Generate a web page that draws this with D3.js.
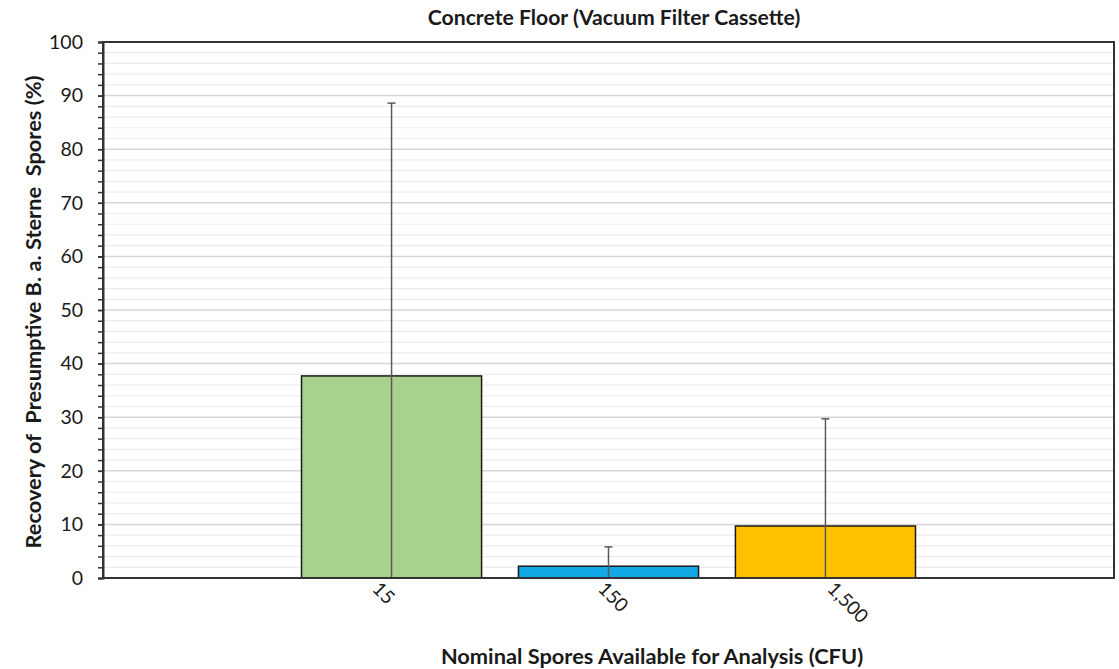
<!DOCTYPE html>
<html>
<head>
<meta charset="utf-8">
<script src="https://cdn.jsdelivr.net/npm/d3@7"></script>
<style>
  html, body { margin: 0; padding: 0; background: #fff; }
  svg { display: block; }
  text { font-family: Lato, "Open Sans", sans-serif; fill: #1a1a1a; }
</style>
</head>
<body>
<svg id="chart" width="1119" height="669"></svg>
<script>
// Nominal spore challenge levels (CFU)
const categories = ["15", "150", "1,500"];
// Mean recovery (%) and standard deviation for each level
const meanRecovery = [37.7, 2.2, 9.7];
const sdRecovery = [50.9, 3.6, 20.0];
const barColors = ["#a9d18e", "#12a9e6", "#ffc000"];
const yTicks = [0, 10, 20, 30, 40, 50, 60, 70, 80, 90, 100];
const yMinorTicks = d3.range(0, 101, 2);

const titleText = "Concrete Floor (Vacuum Filter Cassette)";
const yLabelText = "Recovery of\u00a0 Presumptive B. a. Sterne\u00a0 Spores (%)";
const xLabelText = "Nominal Spores Available for Analysis (CFU)";

const margin = { top: 42, right: 5, bottom: 91, left: 103 };
const W = 1119, H = 669;
const innerW = W - margin.left - margin.right;
const innerH = H - margin.top - margin.bottom;
const FONT = "Lato, 'Open Sans', sans-serif";

const svg = d3.select("#chart");
const g = svg.append("g").attr("transform", `translate(${margin.left},${margin.top})`);

const x = d3.scaleBand()
  .domain(categories)
  .range([0, innerW])
  .paddingInner(0.17)
  .paddingOuter(0.915);

const y = d3.scaleLinear().domain([0, 100]).range([innerH, 0]);

// Minor gridlines every 2 %
g.append("g").selectAll("line")
  .data(yMinorTicks.filter(v => v % 10 !== 0))
  .join("line")
  .attr("x1", 0).attr("x2", innerW)
  .attr("y1", d => y(d)).attr("y2", d => y(d))
  .attr("stroke", "#ececec").attr("stroke-width", 1.2);

// Major gridlines every 10 %
g.append("g").selectAll("line")
  .data(yTicks.filter(v => v > 0 && v < 100))
  .join("line")
  .attr("x1", 0).attr("x2", innerW)
  .attr("y1", d => y(d)).attr("y2", d => y(d))
  .attr("stroke", "#d6d6d6").attr("stroke-width", 1.5);

// Bars
g.append("g").selectAll("rect")
  .data(categories.map((c, i) => ({ c, v: meanRecovery[i], color: barColors[i] })))
  .join("rect")
  .attr("x", d => x(d.c))
  .attr("width", x.bandwidth())
  .attr("y", d => y(d.v))
  .attr("height", d => y(0) - y(d.v))
  .attr("fill", d => d.color)
  .attr("stroke", "#1a1a1a")
  .attr("stroke-width", 1.5);

// Error bars (lower arm clipped at zero, cap on the upper arm)
const err = g.append("g").attr("stroke", "#5a5a5a").attr("stroke-width", 1.5);
categories.forEach((c, i) => {
  const cx = x(c) + x.bandwidth() / 2;
  const hi = meanRecovery[i] + sdRecovery[i];
  const lo = Math.max(0, meanRecovery[i] - sdRecovery[i]);
  err.append("line").attr("x1", cx).attr("x2", cx).attr("y1", y(lo)).attr("y2", y(hi));
  err.append("line").attr("x1", cx - 4).attr("x2", cx + 4).attr("y1", y(hi)).attr("y2", y(hi));
});

// Plot frame
g.append("rect")
  .attr("x", 0).attr("y", 0).attr("width", innerW).attr("height", innerH)
  .attr("fill", "none").attr("stroke", "#333").attr("stroke-width", 2);

// Y axis: minor ticks then labelled major ticks
const yMinorAxis = d3.axisLeft(y).tickValues(yMinorTicks).tickSize(5).tickFormat("");
g.append("g").call(yMinorAxis)
  .call(a => a.select(".domain").remove())
  .call(a => a.selectAll("line").attr("stroke", "#333").attr("stroke-width", 1.5));

const yAxis = d3.axisLeft(y).tickValues(yTicks).tickSize(5).tickPadding(15);
g.append("g").call(yAxis)
  .attr("font-family", FONT).attr("font-size", 19.5)
  .call(a => a.select(".domain").attr("stroke", "#333").attr("stroke-width", 2))
  .call(a => a.selectAll("line").attr("stroke", "#333").attr("stroke-width", 1.5))
  .call(a => a.selectAll("text").attr("fill", "#1a1a1a"));

// X axis labels, rotated 45°; longer labels start a little further right
const xAxis = d3.axisBottom(x).tickSize(0).tickPadding(0);
g.append("g").attr("transform", `translate(0,${innerH})`).call(xAxis)
  .attr("font-family", FONT).attr("font-size", 19)
  .call(a => a.select(".domain").remove())
  .call(a => a.selectAll("text")
    .attr("fill", "#1a1a1a")
    .attr("text-anchor", "start")
    .attr("dy", "0")
    .attr("y", 0)
    .attr("transform", function () {
      const len = this.getComputedTextLength();
      const dx = -38 + 0.8 * len;
      return `translate(${dx},12) rotate(45)`;
    }));

// Title
svg.append("text")
  .attr("x", 614).attr("y", 25)
  .attr("text-anchor", "middle")
  .attr("font-family", FONT)
  .attr("font-size", 21.2).attr("font-weight", 700)
  .text(titleText);

// Axis titles
svg.append("text")
  .attr("transform", `translate(41,${margin.top + innerH / 2 + 2}) rotate(-90)`)
  .attr("text-anchor", "middle")
  .attr("font-family", FONT)
  .attr("font-size", 21.8).attr("font-weight", 700)
  .text(yLabelText);

svg.append("text")
  .attr("x", 652).attr("y", 664)
  .attr("text-anchor", "middle")
  .attr("font-family", FONT)
  .attr("font-size", 21.8).attr("font-weight", 700)
  .text(xLabelText);
</script>
</body>
</html>
